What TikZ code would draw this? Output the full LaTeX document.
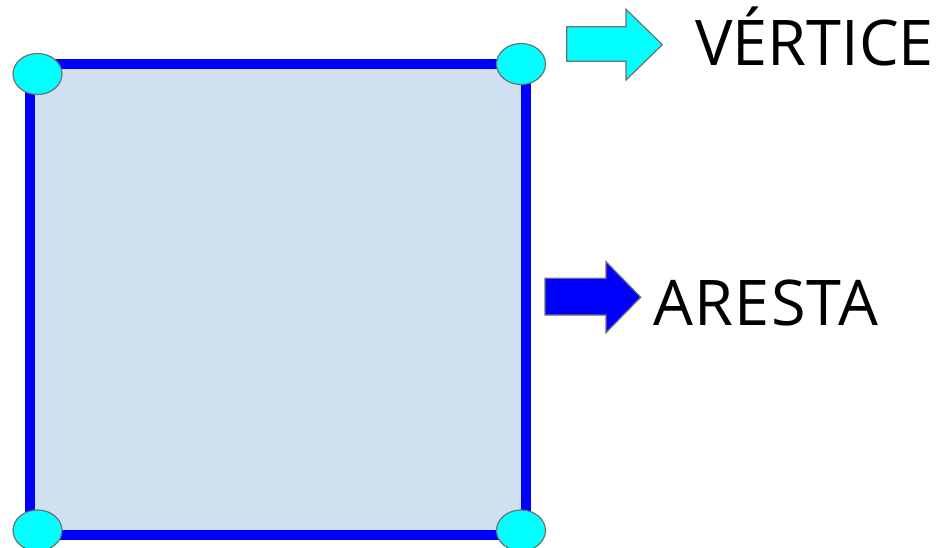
\documentclass[tikz,border=0pt]{standalone}
\usepackage{fontspec}
\setmainfont{Open Sans}
\usetikzlibrary{shapes.geometric}
\definecolor{facefill}{HTML}{CFE0F1}
\definecolor{edgeblue}{HTML}{0000FF}
\definecolor{vcyan}{HTML}{00FFFF}
\definecolor{outline}{HTML}{707070}
\tikzset{
  face/.style={draw=edgeblue, fill=facefill, line width=10pt, line join=miter, rectangle, inner sep=0pt},
  vertexdot/.style={ellipse, draw=outline, fill=vcyan, line width=1.2pt, minimum width=49pt, minimum height=41pt, inner sep=0pt},
  blockarrow/.style={draw=outline, line width=1.2pt, line join=miter},
  lbl/.style={anchor=base west, inner sep=0pt, font=\fontsize{63}{70}\selectfont}
}
\begin{document}
\begin{tikzpicture}[x=1pt,y=-1pt]
\useasboundingbox (0,0) rectangle (940,548);
\fill[white] (0,0) rectangle (940,548);
% square face
\node[face, minimum width=495.7pt, minimum height=470.7pt] (sq) at (277.85,299.65) {};
% vertices
\node[vertexdot] (v1) at (37.5,74) {};
\node[vertexdot] (v2) at (521,64) {};
\node[vertexdot] (v3) at (37.5,530.5) {};
\node[vertexdot] (v4) at (521,530.5) {};
% arrows
\draw[blockarrow, fill=vcyan] (566.7,26.7) -- (626,26.7) -- (626,9.3) -- (662.3,44.7) -- (626,80) -- (626,61.3) -- (566.7,61.3) -- cycle;
\draw[blockarrow, fill=edgeblue] (545,278.3) -- (606,278.3) -- (606,261.7) -- (640.7,297.2) -- (606,332.7) -- (606,315) -- (545,315) -- cycle;
% labels
\node[lbl] (tv) at (695,66) {VÉRTICE};
\node[lbl] (ta) at (653.3,325) {\addfontfeature{LetterSpace=2}ARESTA};
\end{tikzpicture}
\end{document}
